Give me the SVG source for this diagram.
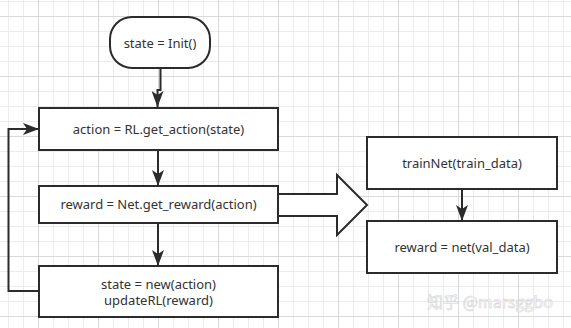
<svg xmlns="http://www.w3.org/2000/svg" width="571" height="328" viewBox="0 0 571 328">
<defs>
<pattern id="minor" x="8" y="1" width="15" height="15" patternUnits="userSpaceOnUse">
<path d="M0.5 0 V15 M0 0.5 H15" fill="none" stroke="#ececec" stroke-width="1"/>
</pattern>
<pattern id="major" x="38" y="16" width="60" height="60" patternUnits="userSpaceOnUse">
<path d="M0.5 0 V60 M0 0.5 H60" fill="none" stroke="#d9d9d9" stroke-width="1"/>
</pattern>
<marker id="ah" viewBox="0 0 16 12" refX="16" refY="6" markerWidth="16" markerHeight="12" markerUnits="userSpaceOnUse" orient="auto">
<path d="M0 0 L16 6 L0 12 L4 6 Z" fill="#2b2b2b"/>
</marker>
<style>
.box{fill:#fff;stroke:#2b2b2b;stroke-width:2}
.lbl{font-family:"Noto Sans","Open Sans",sans-serif;font-size:13px;fill:#333;text-anchor:middle}
.edge{fill:none;stroke:#2b2b2b;stroke-width:2}
</style>
</defs>
<rect width="571" height="328" fill="#fff"/>
<rect width="571" height="328" fill="url(#minor)"/>
<rect width="571" height="328" fill="url(#major)"/>

<g id="connectors">
<path class="edge" d="M160.5 68 V90 H157.5 V107" marker-end="url(#ah)"/>
<path class="edge" d="M158 150 V186" marker-end="url(#ah)"/>
<path class="edge" d="M158 223 V266" marker-end="url(#ah)"/>
<path class="edge" d="M39 291 H8.5 V129 H39" marker-end="url(#ah)"/>
<path class="edge" d="M462 189 V221" marker-end="url(#ah)"/>
<polygon class="box" points="278,194 337,194 337,175 367,205 337,235 337,216 278,216"/>
</g>

<g id="init">
<rect class="box" x="110" y="17" width="100" height="51" rx="22" ry="22"/>
<text class="lbl" x="160" y="47.5">state = Init()</text>
</g>
<g id="action">
<rect class="box" x="39" y="108" width="239" height="42"/>
<text class="lbl" x="158.5" y="133.5">action = RL.get_action(state)</text>
</g>
<g id="reward">
<rect class="box" x="39" y="186" width="239" height="37"/>
<text class="lbl" x="158.5" y="209">reward = Net.get_reward(action)</text>
</g>
<g id="state">
<rect class="box" x="39" y="266" width="239" height="51"/>
<text class="lbl" x="158.5" y="288.5">state = new(action)</text>
<text class="lbl" x="158.5" y="305">updateRL(reward)</text>
</g>
<g id="trainnet">
<rect class="box" x="367" y="137" width="190" height="52"/>
<text class="lbl" x="462" y="167.5">trainNet(train_data)</text>
</g>
<g id="rewardnet">
<rect class="box" x="367" y="221" width="190" height="52"/>
<text class="lbl" x="462" y="251.5">reward = net(val_data)</text>
</g>
<text x="490" y="308" font-family="'Noto Sans CJK SC','Noto Sans',sans-serif" font-size="16" fill="#fff" stroke="#d2d2d2" stroke-width="0.6" text-anchor="middle">知乎 @marsggbo</text>
</svg>
